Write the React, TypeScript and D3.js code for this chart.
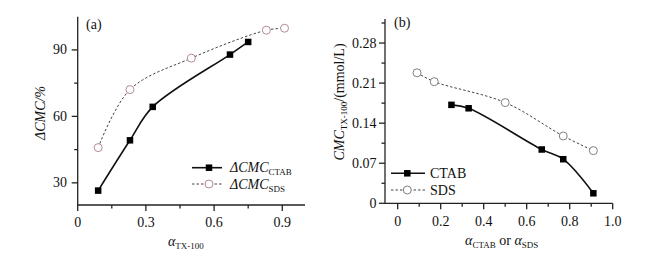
import React from "react";
import * as d3 from "d3";

const ctabA_x = [0.09, 0.23, 0.33, 0.67, 0.75];
const ctabA_y = [26.5, 49.2, 64.3, 87.9, 93.6];
const sdsA_x = [0.09, 0.23, 0.5, 0.83, 0.91];
const sdsA_y = [45.9, 72.1, 86.3, 98.9, 99.8];

const ctabB_x = [0.25, 0.33, 0.67, 0.77, 0.91];
const ctabB_y = [0.172, 0.166, 0.094, 0.077, 0.0175];
const sdsB_x = [0.09, 0.17, 0.5, 0.77, 0.91];
const sdsB_y = [0.228, 0.2125, 0.176, 0.1176, 0.092];

const ticksAx = [0, 0.3, 0.6, 0.9];
const ticksAxLabels = ["0", "0.3", "0.6", "0.9"];
const ticksAy = [30, 60, 90];
const ticksBx = [0, 0.2, 0.4, 0.6, 0.8, 1.0];
const ticksBxLabels = ["0", "0.2", "0.4", "0.6", "0.8", "1.0"];
const ticksBy = [0, 0.07, 0.14, 0.21, 0.28];
const ticksByLabels = ["0", "0.07", "0.14", "0.21", "0.28"];

const FONT = "Liberation Serif";
const CIRC = "#b58a98";
const CIRC_B = "#808080";
const FS = 14;
const SUB = 9;

function zip(xs: number[], ys: number[]) {
  return xs.map((x, i) => [x, ys[i]] as [number, number]);
}

export default function App() {
  const xA = d3.scaleLinear().domain([0, 1.0]).range([77.7, 305]);
  const yA = d3.scaleLinear().domain([20, 105]).range([205, 16.7]);
  const xB = d3.scaleLinear().domain([-0.059, 1.0]).range([385, 612.7]);
  const yB = d3.scaleLinear().domain([0, 0.322]).range([203.3, 19]);

  const curve = d3.curveCatmullRom.alpha(0.5);
  const lineA = d3.line<[number, number]>().x(d => xA(d[0])).y(d => yA(d[1])).curve(curve);
  const lineB = d3.line<[number, number]>().x(d => xB(d[0])).y(d => yB(d[1])).curve(curve);

  const minorAx = [0.15, 0.45, 0.75];
  const minorAy = [45, 75];
  const minorBx = [0.1, 0.3, 0.5, 0.7, 0.9];
  const minorBy = [0.035, 0.105, 0.175, 0.245, 0.315];

  const sq = 6.5;
  const r = 4;
  const ts = { fontFamily: FONT };

  return (
    <svg width={652} height={258} style={{ position: "absolute", left: 0, top: 0, background: "#fff", fontFamily: FONT }}>
      <g stroke="#222" strokeWidth={1.3} fill="none">
        <line x1={xA(0)} y1={yA(20)} x2={xA(1)} y2={yA(20)} />
        <line x1={xA(0)} y1={yA(20)} x2={xA(0)} y2={yA(105)} />
        {ticksAx.map(t => <line key={"ax" + t} x1={xA(t)} x2={xA(t)} y1={yA(20)} y2={yA(20) + 6} />)}
        {minorAx.map(t => <line key={"axm" + t} x1={xA(t)} x2={xA(t)} y1={yA(20)} y2={yA(20) + 3.5} />)}
        {ticksAy.map(t => <line key={"ay" + t} x1={xA(0)} x2={xA(0) - 6} y1={yA(t)} y2={yA(t)} />)}
        {minorAy.map(t => <line key={"aym" + t} x1={xA(0)} x2={xA(0) - 3.5} y1={yA(t)} y2={yA(t)} />)}
      </g>
      <g fontSize={FS} fill="#111" style={ts}>
        {ticksAx.map((t, i) => <text key={"axl" + t} x={xA(t)} y={227} textAnchor="middle" style={ts}>{ticksAxLabels[i]}</text>)}
        {ticksAy.map(t => <text key={"ayl" + t} x={67} y={yA(t) + 4.5} textAnchor="end" style={ts}>{t}</text>)}
      </g>
      <text x={86} y={29} fontSize={FS} fill="#111" style={ts}>(a)</text>
      <text transform="translate(45,113) rotate(-90)" fontSize={FS} fontStyle="italic" textAnchor="middle" fill="#111" style={ts}>ΔCMC/%</text>
      <text x={168} y={246} fontSize={FS} fill="#111" style={ts}>
        <tspan fontStyle="italic">α</tspan><tspan fontSize={SUB} dy={3}>TX-100</tspan>
      </text>

      <path d={lineA(zip(sdsA_x, sdsA_y)) || ""} fill="none" stroke="#444" strokeWidth={1} strokeDasharray="2.5,2" />
      <path d={lineA(zip(ctabA_x, ctabA_y)) || ""} fill="none" stroke="#111" strokeWidth={1.6} />
      {zip(ctabA_x, ctabA_y).map((d, i) => (
        <rect key={"ca" + i} x={xA(d[0]) - sq / 2} y={yA(d[1]) - sq / 2} width={sq} height={sq} fill="#000" />
      ))}
      {zip(sdsA_x, sdsA_y).map((d, i) => (
        <circle key={"sa" + i} cx={xA(d[0])} cy={yA(d[1])} r={r} fill="#fff" stroke={CIRC} strokeWidth={1} />
      ))}
      <line x1={192} x2={222} y1={167.7} y2={167.7} stroke="#111" strokeWidth={1.6} />
      <rect x={209 - sq / 2} y={167.7 - sq / 2} width={sq} height={sq} fill="#000" />
      <line x1={192} x2={222} y1={184} y2={184} stroke="#444" strokeWidth={1} strokeDasharray="2.5,2" />
      <circle cx={209} cy={184} r={r} fill="#fff" stroke={CIRC} strokeWidth={1} />
      <text x={230} y={172} fontSize={FS} fill="#111" style={ts}>
        <tspan fontStyle="italic">ΔCMC</tspan><tspan fontSize={SUB} dy={3}>CTAB</tspan>
      </text>
      <text x={230} y={188.5} fontSize={FS} fill="#111" style={ts}>
        <tspan fontStyle="italic">ΔCMC</tspan><tspan fontSize={SUB} dy={3}>SDS</tspan>
      </text>

      <g stroke="#222" strokeWidth={1.3} fill="none">
        <line x1={xB(-0.059)} y1={yB(0)} x2={xB(1.0)} y2={yB(0)} />
        <line x1={xB(-0.059)} y1={yB(0)} x2={xB(-0.059)} y2={yB(0.322)} />
        {ticksBx.map(t => <line key={"bx" + t} x1={xB(t)} x2={xB(t)} y1={yB(0)} y2={yB(0) + 6} />)}
        {minorBx.map(t => <line key={"bxm" + t} x1={xB(t)} x2={xB(t)} y1={yB(0)} y2={yB(0) + 3.5} />)}
        {ticksBy.map(t => <line key={"by" + t} x1={xB(-0.059)} x2={xB(-0.059) - 6} y1={yB(t)} y2={yB(t)} />)}
        {minorBy.map(t => <line key={"bym" + t} x1={xB(-0.059)} x2={xB(-0.059) - 3.5} y1={yB(t)} y2={yB(t)} />)}
      </g>
      <g fontSize={FS} fill="#111" style={ts}>
        {ticksBx.map((t, i) => <text key={"bxl" + t} x={xB(t)} y={226} textAnchor="middle" style={ts}>{ticksBxLabels[i]}</text>)}
        {ticksBy.map((t, i) => <text key={"byl" + t} x={376.5} y={yB(t) + 4.5} textAnchor="end" style={ts}>{ticksByLabels[i]}</text>)}
      </g>
      <text x={394} y={27} fontSize={FS} fill="#111" style={ts}>(b)</text>
      <text transform="translate(344,102) rotate(-90)" fontSize={FS} textAnchor="middle" fill="#111" style={ts}>
        <tspan fontStyle="italic">CMC</tspan><tspan fontSize={SUB} dy={3}>TX-100</tspan><tspan dy={-3}>/(mmol/L)</tspan>
      </text>
      <text x={501.7} y={245} fontSize={FS} textAnchor="middle" fill="#111" style={ts}>
        <tspan fontStyle="italic">α</tspan><tspan fontSize={SUB} dy={3}>CTAB</tspan><tspan dy={-3}> or </tspan><tspan fontStyle="italic">α</tspan><tspan fontSize={SUB} dy={3}>SDS</tspan>
      </text>

      <path d={lineB(zip(sdsB_x, sdsB_y)) || ""} fill="none" stroke="#444" strokeWidth={1} strokeDasharray="2.5,2" />
      <path d={lineB(zip(ctabB_x, ctabB_y)) || ""} fill="none" stroke="#111" strokeWidth={1.6} />
      {zip(ctabB_x, ctabB_y).map((d, i) => (
        <rect key={"cb" + i} x={xB(d[0]) - sq / 2} y={yB(d[1]) - sq / 2} width={sq} height={sq} fill="#000" />
      ))}
      {zip(sdsB_x, sdsB_y).map((d, i) => (
        <circle key={"sb" + i} cx={xB(d[0])} cy={yB(d[1])} r={r} fill="#fff" stroke={CIRC_B} strokeWidth={1} />
      ))}
      <line x1={391} x2={425} y1={173.3} y2={173.3} stroke="#111" strokeWidth={1.6} />
      <rect x={407.3 - sq / 2} y={173.3 - sq / 2} width={sq} height={sq} fill="#000" />
      <line x1={391} x2={425} y1={190} y2={190} stroke="#444" strokeWidth={1} strokeDasharray="2.5,2" />
      <circle cx={407.3} cy={190} r={r} fill="#fff" stroke={CIRC_B} strokeWidth={1} />
      <text x={430} y={178} fontSize={FS} fill="#111" style={ts}>CTAB</text>
      <text x={430} y={194.5} fontSize={FS} fill="#111" style={ts}>SDS</text>
    </svg>
  );
}
